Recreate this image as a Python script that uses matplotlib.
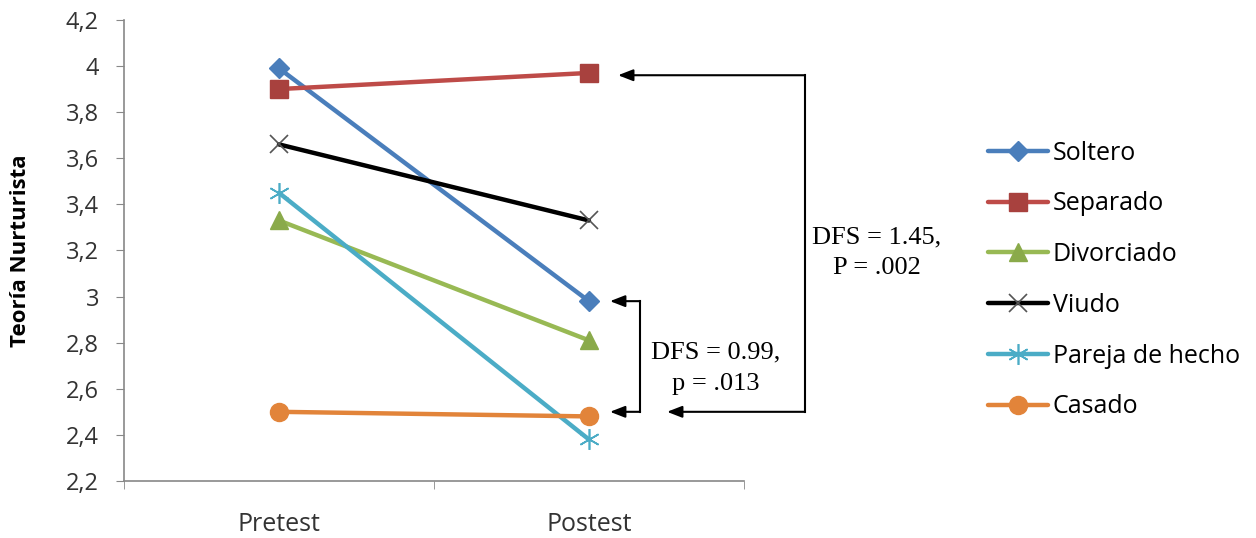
import matplotlib.pyplot as plt

plt.rcParams['font.family'] = ['Open Sans', 'DejaVu Sans']

categories = ['Pretest', 'Postest']
series_names = ['Soltero', 'Separado', 'Divorciado', 'Viudo', 'Pareja de hecho', 'Casado']
soltero = [3.99, 2.98]
separado = [3.90, 3.97]
divorciado = [3.33, 2.81]
viudo = [3.66, 3.33]
pareja = [3.45, 2.38]
casado = [2.50, 2.48]
yticks = [2.2, 2.4, 2.6, 2.8, 3.0, 3.2, 3.4, 3.6, 3.8, 4.0, 4.2]
ytick_labels = ['2,2', '2,4', '2,6', '2,8', '3', '3,2', '3,4', '3,6', '3,8', '4', '4,2']

fig = plt.figure(figsize=(12.56, 5.38), dpi=100)
ax = fig.add_axes([0.0987, 0.106, 0.4936, 0.857])

x = list(range(len(categories)))
styles = [
    (soltero, '#4A7EBB', 'D', '#4A7EBB', 10, 1),
    (separado, '#BE4B48', 's', '#A8413E', 13, 1),
    (divorciado, '#98B954', '^', '#8AAA4A', 13, 1),
    (viudo, '#000000', 'x', '#555555', 13, 1.2),
    (pareja, '#4BACC6', (6, 2, 0), '#4BACC6', 15, 1.2),
    (casado, '#E2843A', 'o', '#E2843A', 13, 1),
]
for name, (vals, col, mk, mcol, ms, mew) in zip(series_names, styles):
    ax.plot(x, vals, color=col, lw=3.2, marker=mk, markersize=ms,
            markerfacecolor=mcol, markeredgecolor=mcol, markeredgewidth=mew,
            label=name, solid_capstyle='round')

ax.set_xlim(-0.5, 1.5)
ax.set_ylim(2.2, 4.2)
ax.set_yticks(yticks)
ax.set_yticklabels(ytick_labels, fontsize=17, color='#333333')
ax.set_xticks(x)
ax.set_xticklabels(categories, fontsize=18, color='#333333')
ax.set_xticks([-0.5, 0.5, 1.5], minor=True)
ax.tick_params(axis='x', which='major', length=0, pad=22)
ax.tick_params(axis='x', which='minor', length=6, color='#888888', direction='out')
ax.tick_params(axis='y', length=6, color='#888888', direction='out', pad=12)
for s in ['top', 'right']:
    ax.spines[s].set_visible(False)
for s in ['left', 'bottom']:
    ax.spines[s].set_color('#888888')
    ax.spines[s].set_linewidth(1.2)
ax.set_ylabel('Teoría Nurturista', fontsize=16, fontweight='bold')
ax.yaxis.set_label_coords(-0.15, 0.5)

# brackets with arrows (data coords: x beyond Postest)
arrow = dict(arrowstyle='-|>,head_length=0.9,head_width=0.35', color='black', lw=1.5,
             shrinkA=0, shrinkB=0)
bx1 = 1.165
ax.plot([bx1, bx1], [2.98, 2.50], color='black', lw=1.5, clip_on=False)
ax.annotate('', xy=(1.068, 2.98), xytext=(bx1, 2.98), arrowprops=arrow, annotation_clip=False)
ax.annotate('', xy=(1.068, 2.50), xytext=(bx1, 2.50), arrowprops=arrow, annotation_clip=False)
ax.text(1.41, 2.69, 'DFS = 0.99,\np = .013', family='Liberation Serif', fontsize=19,
        ha='center', va='center', linespacing=1.55)

bx2 = 1.697
ax.plot([bx2, bx2], [3.96, 2.50], color='black', lw=1.5, clip_on=False)
ax.annotate('', xy=(1.094, 3.96), xytext=(bx2, 3.96), arrowprops=arrow, annotation_clip=False)
ax.annotate('', xy=(1.252, 2.50), xytext=(bx2, 2.50), arrowprops=arrow, annotation_clip=False)
ax.text(1.928, 3.19, 'DFS = 1.45,\nP = .002', family='Liberation Serif', fontsize=19,
        ha='center', va='center', linespacing=1.55)

ax.legend(loc='center left', bbox_to_anchor=(1.377, 0.436), frameon=False, fontsize=18,
          handlelength=2.4, handletextpad=0.2, labelspacing=1.03, borderaxespad=0)

fig.savefig('out.png', dpi=100)
